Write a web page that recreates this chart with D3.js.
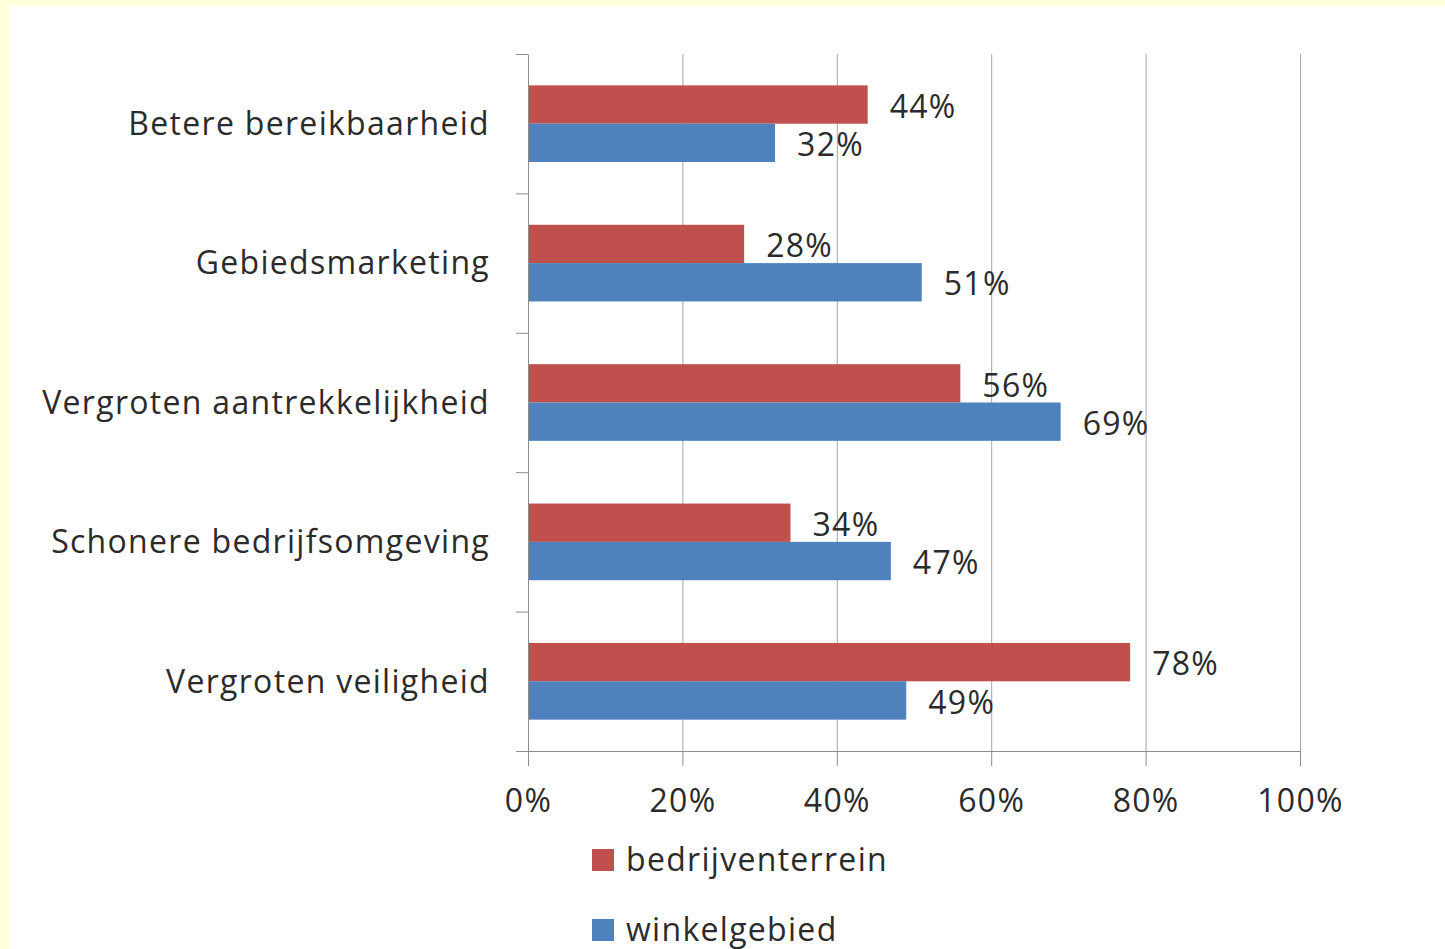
<!DOCTYPE html>
<html>
<head>
<meta charset="utf-8">
<script src="https://cdn.jsdelivr.net/npm/d3@7"></script>
<style>
  body { margin: 0; background: #fff; }
  text { font-family: "Open Sans", Lato, sans-serif; fill: #2b2b2b; letter-spacing: 1.3px; }
  .axis path, .axis line { stroke: #8c8c8c; }
  .grid line { stroke: #a6a6a6; }
  .grid path { display: none; }
</style>
</head>
<body>
<script>
// chart values
const categories = ["Betere bereikbaarheid", "Gebiedsmarketing", "Vergroten aantrekkelijkheid", "Schonere bedrijfsomgeving", "Vergroten veiligheid"];
const seriesNames = ["bedrijventerrein", "winkelgebied"];
const bedrijventerrein = [0.44, 0.28, 0.56, 0.34, 0.78];
const winkelgebied = [0.32, 0.51, 0.69, 0.47, 0.49];
const xTicks = [0, 0.2, 0.4, 0.6, 0.8, 1];
const colors = ["#C0504D", "#4F81BD"];

const W = 1445, H = 949;
const plot = { left: 528, right: 1300, top: 54, bottom: 751 };
const fontSize = 32;

const svg = d3.select("body").append("svg")
    .attr("width", W)
    .attr("height", H);

// yellow frame + white page
svg.append("rect").attr("width", W).attr("height", H).attr("fill", "#FFFFDC");
svg.append("rect").attr("x", 9).attr("y", 6).attr("width", W - 9).attr("height", H - 6).attr("fill", "#fff");

const x = d3.scaleLinear().domain([0, 1]).range([plot.left, plot.right]);

const y = d3.scaleBand()
    .domain(categories)
    .range([plot.top, plot.bottom])
    .paddingInner(0.45)
    .paddingOuter(0.225);

const ySub = d3.scaleBand()
    .domain(seriesNames)
    .range([0, y.bandwidth()]);

// category boundaries for the tick marks
const yEdge = d3.scaleLinear().domain([0, categories.length]).range([plot.top, plot.bottom]);

// gridlines
svg.append("g")
    .attr("class", "grid")
    .attr("transform", "translate(0," + plot.bottom + ")")
    .call(d3.axisBottom(x).tickValues(xTicks.slice(1)).tickSize(-(plot.bottom - plot.top)).tickFormat(""));

// bars
const rows = categories.map((c, i) => ({ cat: c, vals: [bedrijventerrein[i], winkelgebied[i]] }));

const groups = svg.selectAll(".row")
    .data(rows)
    .enter().append("g")
    .attr("class", "row")
    .attr("transform", d => "translate(0," + y(d.cat) + ")");

groups.selectAll("rect")
    .data(d => d.vals.map((v, k) => ({ key: seriesNames[k], v: v, k: k })))
    .enter().append("rect")
    .attr("x", x(0))
    .attr("y", d => ySub(d.key))
    .attr("width", d => x(d.v) - x(0))
    .attr("height", ySub.bandwidth())
    .attr("fill", d => colors[d.k]);

// data labels
groups.selectAll(".lbl")
    .data(d => d.vals.map((v, k) => ({ key: seriesNames[k], v: v })))
    .enter().append("text")
    .attr("class", "lbl")
    .attr("x", d => x(d.v) + 22)
    .attr("y", d => ySub(d.key) + ySub.bandwidth() / 2 + 2)
    .attr("dy", "0.35em")
    .style("font-size", fontSize + "px")
    .text(d => d3.format(".0%")(d.v));

// x axis
const xAxis = svg.append("g")
    .attr("class", "axis")
    .attr("transform", "translate(0," + plot.bottom + ")")
    .call(d3.axisBottom(x).tickValues(xTicks).tickSize(15).tickSizeOuter(0).tickPadding(23).tickFormat(d3.format(".0%")));
xAxis.selectAll("text").style("font-size", fontSize + "px").attr("fill", "#2b2b2b");

// y axis line + boundary ticks
svg.append("g")
    .attr("class", "axis")
    .attr("transform", "translate(" + plot.left + ",0)")
    .call(d3.axisLeft(yEdge).ticks(categories.length).tickSize(12).tickSizeOuter(0).tickFormat(""));

// category labels
svg.selectAll(".cat")
    .data(categories)
    .enter().append("text")
    .attr("class", "cat")
    .attr("x", 490)
    .attr("y", d => y(d) + y.bandwidth() / 2)
    .attr("dy", "0.35em")
    .attr("text-anchor", "end")
    .style("font-size", fontSize + "px")
    .text(d => d);

// legend
const legend = svg.selectAll(".legend")
    .data(seriesNames)
    .enter().append("g")
    .attr("class", "legend")
    .attr("transform", (d, i) => "translate(592," + (849 + i * 70) + ")");

legend.append("rect")
    .attr("width", 22)
    .attr("height", 22)
    .attr("fill", (d, i) => colors[i]);

legend.append("text")
    .attr("x", 34)
    .attr("y", 11)
    .attr("dy", "0.35em")
    .style("font-size", fontSize + "px")
    .text(d => d);
</script>
</body>
</html>
